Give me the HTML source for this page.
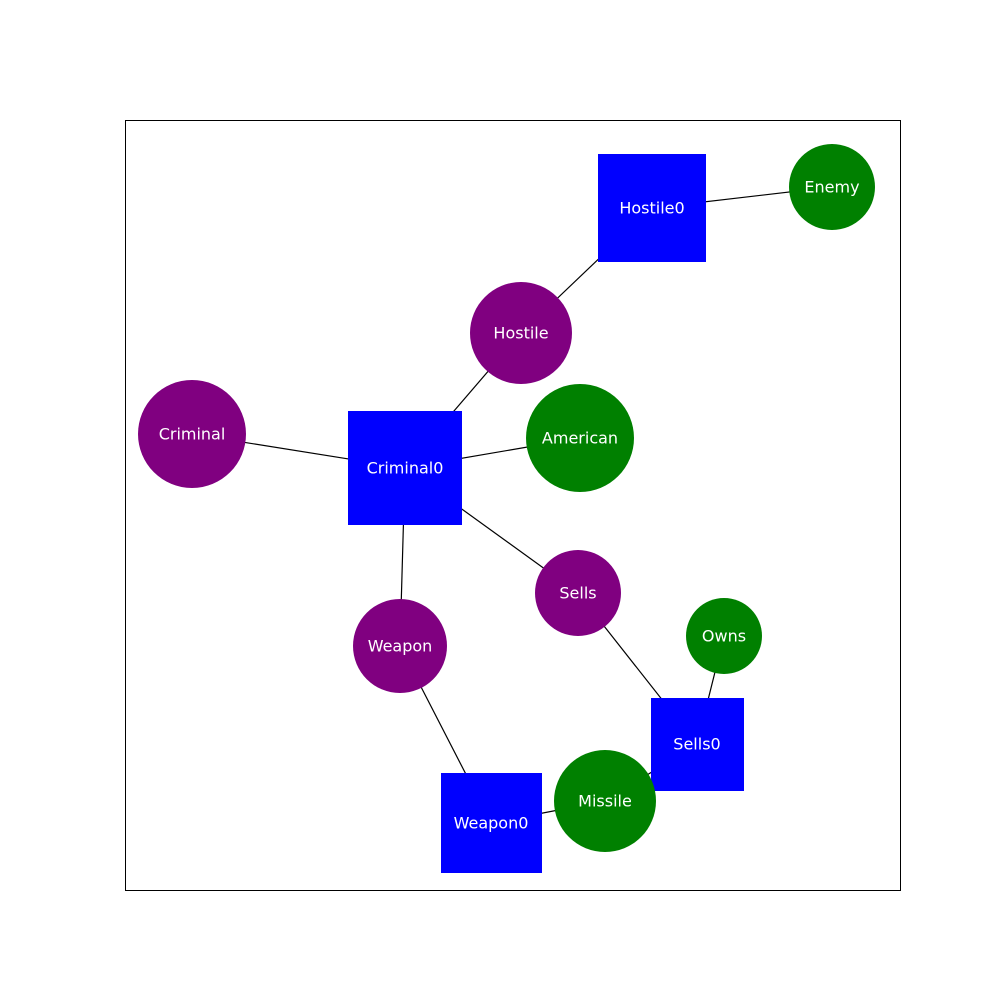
<!DOCTYPE html>
<html><head><meta charset="utf-8"><style>body{margin:0;background:#fff}</style></head><body>
<svg width="1000" height="1000" xmlns="http://www.w3.org/2000/svg" font-family="DejaVu Sans, Liberation Sans, sans-serif" font-size="16" fill="#fff">
<rect x="0" y="0" width="1000" height="1000" fill="#fff"/>
<rect x="125.5" y="120.5" width="775" height="770" fill="none" stroke="#000" stroke-width="1"/>
<g stroke="#000" stroke-width="1.2">
<line x1="652" y1="208" x2="832" y2="187"/>
<line x1="652" y1="208" x2="521" y2="333"/>
<line x1="521" y1="333" x2="405" y2="468"/>
<line x1="192" y1="434" x2="405" y2="468"/>
<line x1="405" y1="468" x2="580" y2="438"/>
<line x1="405" y1="468" x2="578" y2="593"/>
<line x1="405" y1="468" x2="400" y2="646"/>
<line x1="578" y1="593" x2="697" y2="744"/>
<line x1="724" y1="636" x2="697" y2="744"/>
<line x1="400" y1="646" x2="491" y2="823"/>
<line x1="491" y1="823" x2="605" y2="801"/>
<line x1="605" y1="801" x2="697" y2="744"/>
</g>
<rect x="598" y="154" width="108" height="108" fill="#0000ff"/>
<rect x="348" y="411" width="114" height="114" fill="#0000ff"/>
<rect x="651" y="698" width="93" height="93" fill="#0000ff"/>
<rect x="441" y="773" width="101" height="100" fill="#0000ff"/>
<circle cx="832" cy="187" r="43" fill="#008000"/>
<circle cx="521" cy="333" r="51" fill="#800080"/>
<circle cx="192" cy="434" r="54" fill="#800080"/>
<circle cx="580" cy="438" r="54" fill="#008000"/>
<circle cx="578" cy="593" r="43" fill="#800080"/>
<circle cx="400" cy="646" r="47" fill="#800080"/>
<circle cx="724" cy="636" r="38" fill="#008000"/>
<circle cx="605" cy="801" r="51" fill="#008000"/>
<g text-anchor="middle" dominant-baseline="central">
<text x="652" y="208">Hostile0</text>
<text x="832" y="187">Enemy</text>
<text x="521" y="333">Hostile</text>
<text x="192" y="434">Criminal</text>
<text x="405" y="468">Criminal0</text>
<text x="580" y="438">American</text>
<text x="578" y="593">Sells</text>
<text x="400" y="646">Weapon</text>
<text x="724" y="636">Owns</text>
<text x="697" y="744">Sells0</text>
<text x="605" y="801">Missile</text>
<text x="491" y="823">Weapon0</text>
</g>
</svg>
</body></html>
